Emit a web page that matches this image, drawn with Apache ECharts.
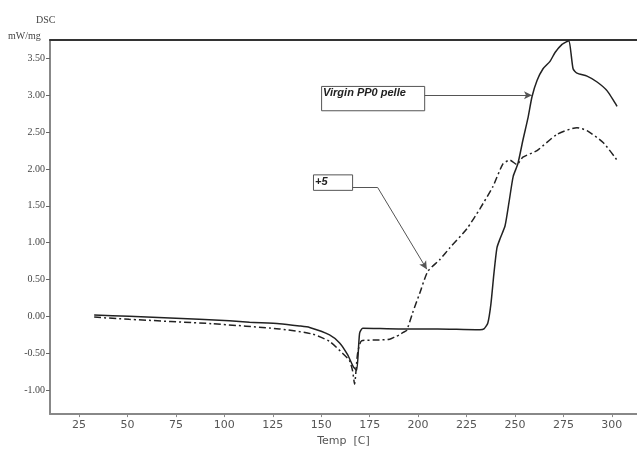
<!DOCTYPE html>
<html>
<head>
<meta charset="utf-8">
<script src="https://cdn.jsdelivr.net/npm/echarts@6/dist/echarts.min.js"></script>
<style>
  html, body { margin: 0; padding: 0; background: #fff; }
  #chart { width: 637px; height: 452px; }
</style>
</head>
<body>
<div id="chart"></div>
<script>
// tick labels
const xTicks = [25, 50, 75, 100, 125, 150, 175, 200, 225, 250, 275, 300]
const yTicks = [-1, -0.5, 0, 0.5, 1, 1.5, 2, 2.5, 3, 3.5]

// Virgin PP0 pellet (solid)
const virginTemp = [32.8, 50.9, 87, 102.6, 113, 128.4, 138.8, 144, 154.3, 159.5, 163.6, 166.7, 168.3,
  169.8, 171.4, 190, 210, 229.8, 231.9, 234, 236, 237.6, 239.1, 240.7, 242.4, 244.9, 247, 249.1,
  251.5, 254.1, 256.7, 258.8, 261.4, 264.5, 268.1, 270.7, 274.3, 276.9, 277.9, 280, 282, 287.2,
  292.4, 297.6, 302.7]
const virginDsc = [0.02, 0.0, -0.04, -0.06, -0.08, -0.1, -0.13, -0.15, -0.25, -0.36, -0.52, -0.69, -0.73,
  -0.23, -0.16, -0.17, -0.17, -0.18, -0.18, -0.17, -0.09, 0.17, 0.57, 0.93, 1.06, 1.23, 1.56, 1.9,
  2.07, 2.39, 2.69, 2.98, 3.2, 3.36, 3.46, 3.58, 3.69, 3.73, 3.74, 3.36, 3.3, 3.26,
  3.18, 3.06, 2.85]

// +5 (dash-dot)
const plus5Temp = [32.8, 50.9, 93.8, 128.4, 145.5, 154.3, 161, 164.6, 166.2, 167.2, 168.8, 170.9,
  180, 185.3, 187.9, 190.5, 192.1, 194.1, 197.2, 200.8, 205, 211.2, 216.4, 225.2, 231.9, 238.6,
  243.8, 247.4, 251, 254.1, 261.4, 271.7, 282, 287.2, 295.5, 302.7]
const plus5Dsc = [-0.01, -0.04, -0.1, -0.17, -0.24, -0.34, -0.5, -0.6, -0.74, -0.92, -0.5, -0.33,
  -0.32, -0.31, -0.28, -0.25, -0.22, -0.19, 0.05, 0.31, 0.61, 0.77, 0.93, 1.19, 1.46, 1.76,
  2.07, 2.12, 2.06, 2.16, 2.25, 2.47, 2.56, 2.52, 2.36, 2.12]

// annotation boxes [t0, v0, t1, v1] and leader lines
const virginBox = [150.2, 3.12, 203.4, 2.79]
const virginLeader = [[203.4, 3.0], [258.8, 3.0]]
const plus5Box = [146.0, 1.92, 166.2, 1.71]
const plus5Leader = [[166.2, 1.75], [179.1, 1.75], [204.5, 0.64]]

const zip = (a, b) => a.map((v, i) => [v, b[i]])

const chart = echarts.init(document.getElementById('chart'))

const boxArea = (box, text) => [
  { coord: [box[0], box[1]], name: text },
  { coord: [box[2], box[3]] }
]
const seg = (p, q) => [{ coord: p }, { coord: q }]

chart.setOption({
  animation: false,
  backgroundColor: '#fff',
  title: [
    { text: 'DSC', left: 31, top: 10, textStyle: { fontFamily: 'Liberation Serif', fontSize: 10, fontWeight: 'normal', color: '#444' } },
    { text: 'mW/mg', left: 3, top: 26, textStyle: { fontFamily: 'Liberation Serif', fontSize: 10, fontWeight: 'normal', color: '#444' } }
  ],
  grid: { left: 50, right: 0, top: 40, bottom: 29 },
  xAxis: [
    {
      type: 'value',
      min: 10,
      max: 313,
      name: 'Temp  [C]',
      nameLocation: 'middle',
      nameGap: 20,
      nameTextStyle: { fontFamily: 'DejaVu Sans', fontSize: 11, color: '#555' },
      axisLine: { onZero: false, lineStyle: { color: '#888', width: 2 } },
      axisTick: { customValues: xTicks, length: 3, lineStyle: { color: '#888' } },
      axisLabel: { customValues: xTicks, fontFamily: 'DejaVu Sans', fontSize: 11, color: '#555', margin: 6 },
      splitLine: { show: false }
    },
    {
      type: 'value',
      position: 'top',
      min: 10,
      max: 313,
      axisLine: { show: true, onZero: false, lineStyle: { color: '#333', width: 2 } },
      axisTick: { show: false },
      axisLabel: { show: false },
      splitLine: { show: false }
    }
  ],
  yAxis: {
    type: 'value',
    min: -1.326,
    max: 3.75,
    axisLine: { show: true, onZero: false, lineStyle: { color: '#888', width: 2 } },
    axisTick: { show: true, customValues: yTicks, length: 4, lineStyle: { color: '#666' } },
    axisLabel: {
      customValues: yTicks,
      fontFamily: 'Liberation Serif',
      fontSize: 10,
      color: '#444',
      margin: 5,
      formatter: (v) => v.toFixed(2)
    },
    splitLine: { show: false }
  },
  series: [
    {
      name: 'Virgin PP0 pellet',
      type: 'line',
      data: zip(virginTemp, virginDsc),
      showSymbol: false,
      smooth: 0.2,
      lineStyle: { color: '#222', width: 1.5 },
      markArea: {
        silent: true,
        itemStyle: { color: '#fff', borderColor: '#555', borderWidth: 1 },
        label: {
          position: 'insideTopLeft',
          offset: [-3, -3],
          fontFamily: 'Liberation Sans',
          fontSize: 11,
          fontStyle: 'italic',
          fontWeight: 'bold',
          color: '#222'
        },
        data: [boxArea(virginBox, 'Virgin PP0 pelle'), boxArea(plus5Box, '+5')]
      },
      markLine: {
        silent: true,
        symbol: ['none', 'none'],
        label: { show: false },
        lineStyle: { color: '#555', width: 1, type: 'solid' },
        data: [seg(plus5Leader[0], plus5Leader[1])]
      }
    },
    {
      name: '+5',
      type: 'line',
      data: zip(plus5Temp, plus5Dsc),
      showSymbol: false,
      smooth: 0.2,
      lineStyle: { color: '#222', width: 1.5, type: [7, 3, 2, 3] },
      markLine: {
        silent: true,
        symbol: ['none', 'arrow'],
        symbolSize: [6, 8],
        label: { show: false },
        lineStyle: { color: '#555', width: 1, type: 'solid' },
        data: [
          seg(virginLeader[0], virginLeader[1]),
          seg(plus5Leader[1], plus5Leader[2])
        ]
      }
    }
  ]
})
</script>
</body>
</html>
